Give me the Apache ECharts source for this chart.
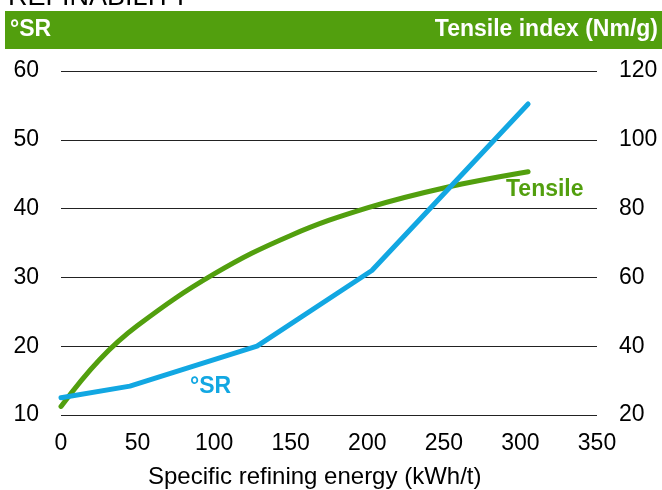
<!DOCTYPE html>
<html>
<head>
<meta charset="utf-8">
<script src="https://cdn.jsdelivr.net/npm/echarts@6/dist/echarts.min.js"></script>
<style>
html,body{margin:0;padding:0;background:#fff;}
#chart{width:662px;height:490px;}
</style>
</head>
<body>
<div id="chart"></div>
<script>
var energySR = [0, 45, 128, 203, 305];
var srValues = [12.5, 14.2, 20, 31, 55.2];
var energyTensile = [0, 25, 50, 100, 150, 200, 250, 305];
var tensileValues = [22.5, 36, 46, 61, 72.2, 80.2, 86, 90.7];
var xTicks = [0, 50, 100, 150, 200, 250, 300, 350];
var leftTicks = [10, 20, 30, 40, 50, 60];
var rightTicks = [20, 40, 60, 80, 100, 120];

var GREEN = '#529F0E';
var BLUE = '#12A7E2';
var FONT = 'Liberation Sans, Arial, sans-serif';

var chart = echarts.init(document.getElementById('chart'));
chart.setOption({
  animation: false,
  grid: {left: 61, right: 65, top: 71, bottom: 75},
  xAxis: {
    type: 'value', min: xTicks[0], max: xTicks[xTicks.length - 1], interval: 50,
    axisLine: {show: false}, axisTick: {show: false}, splitLine: {show: false},
    axisLabel: {color: '#000', fontSize: 23, fontFamily: FONT, margin: 17}
  },
  yAxis: [{
    type: 'value', min: leftTicks[0], max: leftTicks[leftTicks.length - 1], interval: 10,
    axisLine: {show: false}, axisTick: {show: false},
    splitLine: {lineStyle: {color: '#222', width: 1}},
    axisLabel: {color: '#000', fontSize: 23, fontFamily: FONT, margin: 22}
  }, {
    type: 'value', min: rightTicks[0], max: rightTicks[rightTicks.length - 1], interval: 20,
    axisLine: {show: false}, axisTick: {show: false}, splitLine: {show: false},
    axisLabel: {color: '#000', fontSize: 23, fontFamily: FONT, margin: 22}
  }],
  graphic: [
    {type: 'text', left: 8, top: -16, style: {text: 'REFINABILITY', fontSize: 27, fontFamily: FONT, fill: '#000'}},
    {type: 'rect', shape: {x: 5, y: 11, width: 662, height: 38}, style: {fill: GREEN}},
    {type: 'text', left: 10, top: 18, style: {text: '°SR', fontSize: 23, fontWeight: 'bold', fontFamily: FONT, fill: '#fff'}},
    {type: 'text', right: 4, top: 18, style: {text: 'Tensile index (Nm/g)', fontSize: 23, fontWeight: 'bold', fontFamily: FONT, fill: '#fff'}},
    {type: 'text', left: 506, top: 178, style: {text: 'Tensile', fontSize: 23, fontWeight: 'bold', fontFamily: FONT, fill: GREEN}},
    {type: 'text', left: 190, top: 375, style: {text: '°SR', fontSize: 23, fontWeight: 'bold', fontFamily: FONT, fill: BLUE}},
    {type: 'text', left: 148, top: 465, style: {text: 'Specific refining energy (kWh/t)', fontSize: 24, fontFamily: FONT, fill: '#000'}}
  ],
  series: [{
    type: 'line', yAxisIndex: 1, smooth: 0.4, symbol: 'none',
    data: energyTensile.map(function (x, i) { return [x, tensileValues[i]]; }),
    lineStyle: {color: GREEN, width: 5, cap: 'round'}
  }, {
    type: 'line', yAxisIndex: 0, symbol: 'none',
    data: energySR.map(function (x, i) { return [x, srValues[i]]; }),
    lineStyle: {color: BLUE, width: 5, cap: 'round', join: 'round'}
  }]
});
</script>
</body>
</html>
